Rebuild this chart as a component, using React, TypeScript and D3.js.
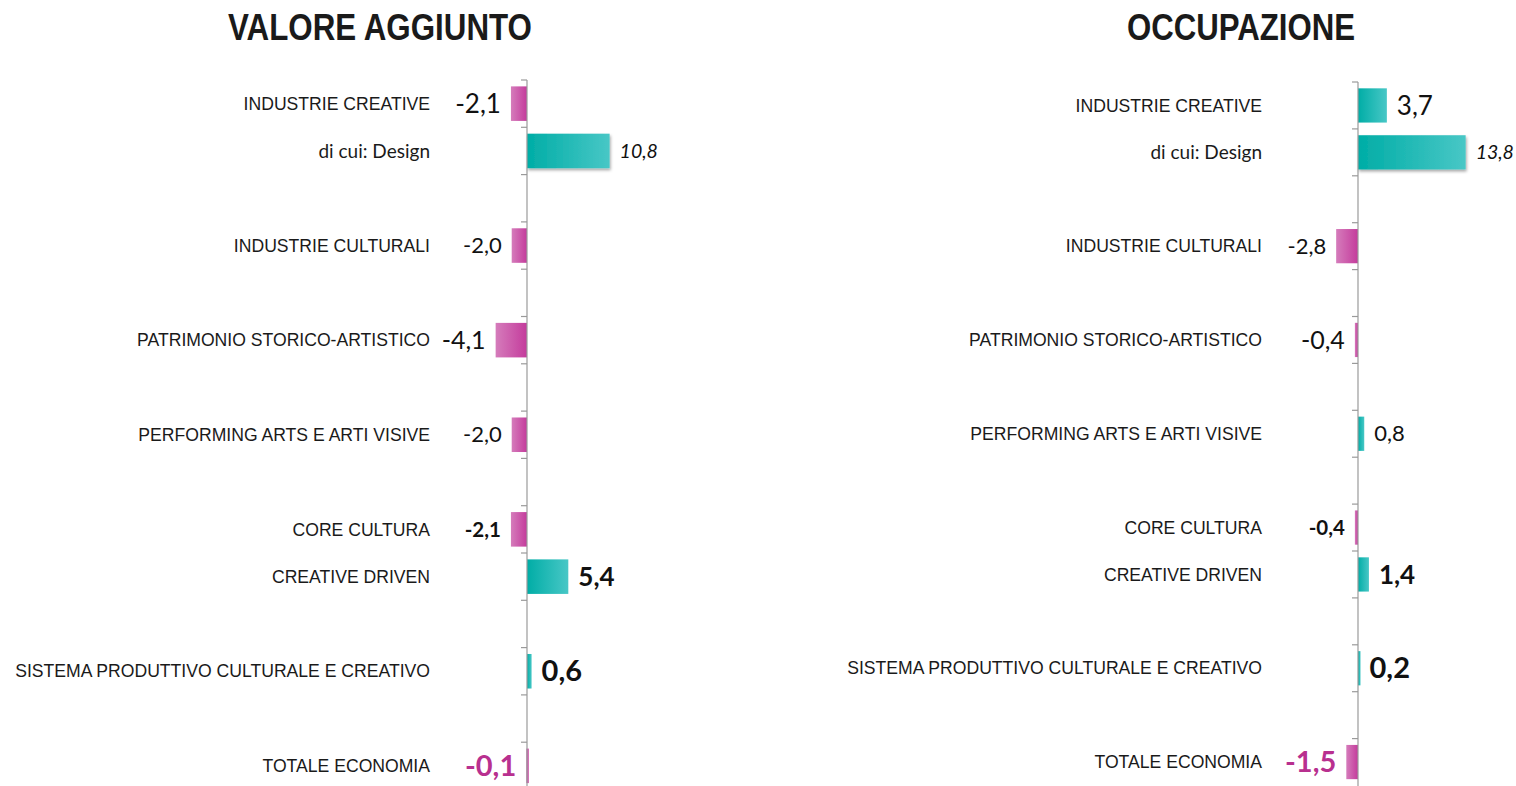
import { useRef, useEffect } from "react";
import * as d3 from "d3";

// rows of both panels (empty strings are spacer rows)
const categories = [
  "INDUSTRIE CREATIVE",
  "di cui: Design",
  "",
  "INDUSTRIE CULTURALI",
  "",
  "PATRIMONIO STORICO-ARTISTICO",
  "",
  "PERFORMING ARTS E ARTI VISIVE",
  "",
  "CORE CULTURA",
  "CREATIVE DRIVEN",
  "",
  "SISTEMA PRODUTTIVO CULTURALE E CREATIVO",
  "",
  "TOTALE ECONOMIA",
];

const valoreAggiunto = [-2.1, 10.8, null, -2.0, null, -4.1, null, -2.0, null, -2.1, 5.4, null, 0.6, null, -0.1];
const occupazione = [3.7, 13.8, null, -2.8, null, -0.4, null, 0.8, null, -0.4, 1.4, null, 0.2, null, -1.5];

const titles = ["VALORE AGGIUNTO", "OCCUPAZIONE"];

const W = 1516;
const H = 786;

const locale = d3.formatLocale({ decimal: ",", thousands: ".", grouping: [3], currency: ["", "€"], minus: "-" });
const fmt = locale.format(".1f");

const MAGENTA = "#c43b9c";
const MAGENTA_LIGHT = "#d57cbb";
const TEAL = "#00ada6";
const TEAL_LIGHT = "#48c7c6";

// value label look per row
function labelStyle(cat: string) {
  switch (cat) {
    case "INDUSTRIE CREATIVE":
      return { size: 26, weight: 400, italic: false, color: "#111" };
    case "di cui: Design":
      return { size: 19.5, weight: 400, italic: true, color: "#111" };
    case "PATRIMONIO STORICO-ARTISTICO":
      return { size: 25, weight: 400, italic: false, color: "#111" };
    case "CORE CULTURA":
      return { size: 20.5, weight: 700, italic: false, color: "#111" };
    case "CREATIVE DRIVEN":
      return { size: 26, weight: 700, italic: false, color: "#111" };
    case "SISTEMA PRODUTTIVO CULTURALE E CREATIVO":
      return { size: 29, weight: 700, italic: false, color: "#111" };
    case "TOTALE ECONOMIA":
      return { size: 29, weight: 700, italic: false, color: "#b8308f" };
    default:
      return { size: 22, weight: 400, italic: false, color: "#111" };
  }
}

export default function App() {
  const svgRef = useRef<SVGSVGElement>(null);

  useEffect(() => {
    const svg = d3.select(svgRef.current);
    svg.selectAll("*").remove();

    const defs = svg.append("defs");
    const grad = (id: string, c1: string, c2: string) => {
      const g = defs.append("linearGradient").attr("id", id).attr("x1", "0").attr("x2", "1").attr("y1", "0").attr("y2", "0");
      g.append("stop").attr("offset", "0%").attr("stop-color", c1);
      g.append("stop").attr("offset", "100%").attr("stop-color", c2);
    };
    grad("negGrad", MAGENTA_LIGHT, MAGENTA);
    grad("posGrad", TEAL, TEAL_LIGHT);
    const shadow = defs.append("filter").attr("id", "shadow").attr("x", "-10%").attr("y", "-20%").attr("width", "130%").attr("height", "160%");
    shadow.append("feDropShadow").attr("dx", 1).attr("dy", 2).attr("stdDeviation", 1.5).attr("flood-color", "#000").attr("flood-opacity", 0.35);

    const panels = [
      { title: titles[0], values: valoreAggiunto, axisX: 527, top: 80, band: 47.3, labelX: 430, titleX: 380, titleW: 304, span: [450.5, 641.75] },
      { title: titles[1], values: occupazione, axisX: 1358, top: 82, band: 46.9, labelX: 1262, titleX: 1241, titleW: 228, span: [1280, 1475] },
    ];

    panels.forEach((p) => {
      const g = svg.append("g");
      const y = d3
        .scaleBand<number>()
        .domain(categories.map((_, i) => i))
        .range([p.top, p.top + p.band * categories.length])
        .paddingInner(0.27)
        .paddingOuter(0.135);
      const x = d3.scaleLinear().domain([-10, 15]).range(p.span);

      // title (condensed look)
      g.append("text")
        .attr("x", p.titleX)
        .attr("y", 40)
        .attr("text-anchor", "middle")
        .attr("textLength", p.titleW)
        .attr("lengthAdjust", "spacingAndGlyphs")
        .style("font-family", "'Liberation Sans', Arial, sans-serif")
        .style("font-weight", 700)
        .style("font-size", "37px")
        .attr("fill", "#1a1a1a")
        .text(p.title);

      // category labels
      g.selectAll(".cat")
        .data(categories.map((c, i) => ({ c, i })).filter((d) => d.c !== ""))
        .join("text")
        .attr("x", p.labelX)
        .attr("y", (d) => y(d.i)! + y.bandwidth() / 2)
        .attr("dy", "0.35em")
        .attr("text-anchor", "end")
        .style("font-family", (d) => (d.c.startsWith("di cui") ? "Lato, sans-serif" : "'Liberation Sans', Arial, sans-serif"))
        .style("font-size", (d) => (d.c.startsWith("di cui") ? "19px" : "17.6px"))
        .attr("fill", "#1a1a1a")
        .text((d) => d.c);

      const rows = p.values
        .map((v, i) => ({ v, i, c: categories[i] }))
        .filter((d) => d.v !== null) as { v: number; i: number; c: string }[];

      // bars
      g.selectAll(".bar")
        .data(rows)
        .join("rect")
        .attr("x", (d) => Math.min(x(0), x(d.v)))
        .attr("y", (d) => y(d.i)!)
        .attr("width", (d) => Math.max(2.5, Math.abs(x(d.v) - x(0))))
        .attr("height", y.bandwidth())
        .attr("fill", (d) => (d.v < 0 ? "url(#negGrad)" : "url(#posGrad)"))
        .attr("filter", (d) => (d.c.startsWith("di cui") ? "url(#shadow)" : null));

      // axis with ticks at band boundaries
      const bounds = d3.range(categories.length).map((i) => p.top + p.band * i);
      g.append("line")
        .attr("x1", p.axisX)
        .attr("x2", p.axisX)
        .attr("y1", p.top)
        .attr("y2", H)
        .attr("stroke", "#9a9a9a")
        .attr("stroke-width", 1.2);
      g.selectAll(".tick")
        .data(bounds)
        .join("line")
        .attr("x1", p.axisX - 6)
        .attr("x2", p.axisX)
        .attr("y1", (d) => d)
        .attr("y2", (d) => d)
        .attr("stroke", "#9a9a9a")
        .attr("stroke-width", 1.2);

      // value labels
      g.selectAll(".val")
        .data(rows)
        .join("text")
        .attr("x", (d) => (d.v < 0 ? x(d.v) - 10 : x(d.v) + 10))
        .attr("y", (d) => y(d.i)! + y.bandwidth() / 2)
        .attr("dy", "0.35em")
        .attr("text-anchor", (d) => (d.v < 0 ? "end" : "start"))
        .style("font-family", "Lato, sans-serif")
        .style("font-size", (d) => labelStyle(d.c).size + "px")
        .style("font-weight", (d) => labelStyle(d.c).weight)
        .style("font-style", (d) => (labelStyle(d.c).italic ? "italic" : "normal"))
        .attr("fill", (d) => labelStyle(d.c).color)
        .text((d) => fmt(d.v));
    });
  }, []);

  return (
    <svg
      ref={svgRef}
      width={W}
      height={H}
      style={{ position: "absolute", left: 0, top: 0, background: "#fff", display: "block" }}
    />
  );
}
